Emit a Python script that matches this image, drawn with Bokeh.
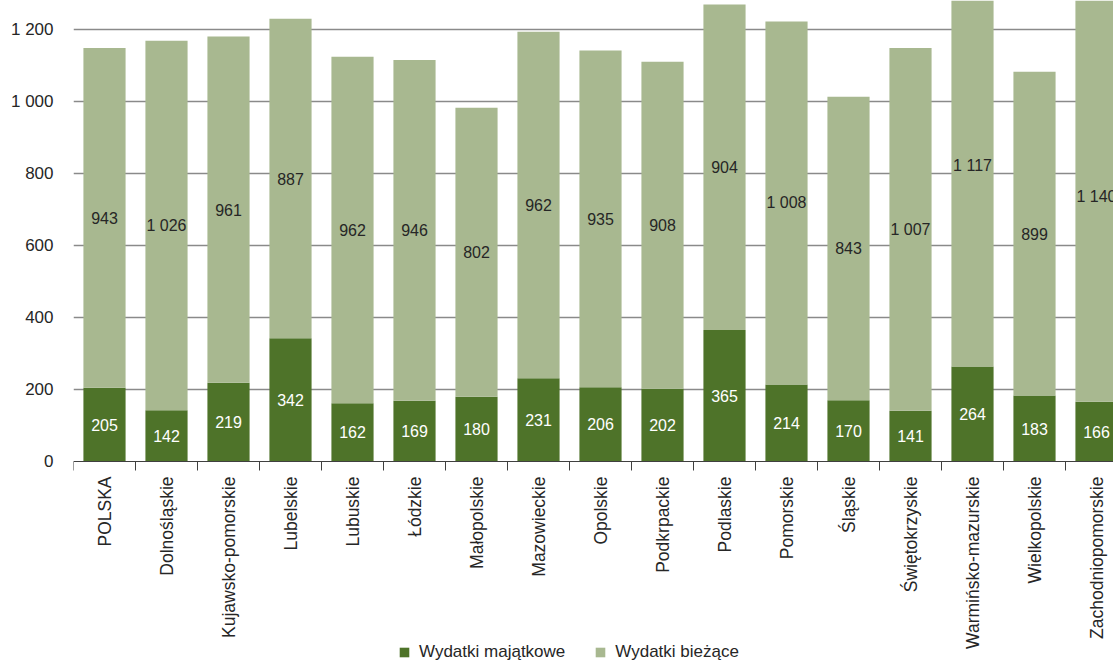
import math
from bokeh.plotting import figure
from bokeh.models import ColumnDataSource, FixedTicker, Range1d, Legend, LegendItem
from bokeh.core.properties import value
from bokeh.embed import file_html
from bokeh.resources import INLINE

categories = ["POLSKA", "Dolnośląskie", "Kujawsko-pomorskie", "Lubelskie", "Lubuskie",
              "Łódzkie", "Małopolskie", "Mazowieckie", "Opolskie", "Podkrpackie",
              "Podlaskie", "Pomorskie", "Śląskie", "Świętokrzyskie",
              "Warmińsko-mazurskie", "Wielkopolskie", "Zachodniopomorskie"]
wydatki_majatkowe = [205, 142, 219, 342, 162, 169, 180, 231, 206, 202, 365, 214, 170, 141, 264, 183, 166]
wydatki_biezace = [943, 1026, 961, 887, 962, 946, 802, 962, 935, 908, 904, 1008, 843, 1007, 1117, 899, 1140]
y_ticks = [0, 200, 400, 600, 800, 1000, 1200]

DARK = "#4e7329"
LIGHT = "#a8b890"
FONT = "Liberation Sans"

FRAME_H = 663
ZERO_PX = 461          # pixel row of the value 0
Y_TOP = 1280           # value at the top edge
scale = ZERO_PX / Y_TOP
y_bottom = -(FRAME_H - ZERO_PX) / scale


def fmt(v):
    return f"{v:,}".replace(",", " ")


xs = [i + 0.5 for i in range(len(categories))]
src = ColumnDataSource(dict(
    x=xs,
    maj=wydatki_majatkowe,
    bie=wydatki_biezace,
    maj_y=[m / 2 for m in wydatki_majatkowe],
    bie_y=[m + b / 2 for m, b in zip(wydatki_majatkowe, wydatki_biezace)],
    maj_t=[fmt(v) for v in wydatki_majatkowe],
    bie_t=[fmt(v) for v in wydatki_biezace],
))

p = figure(frame_width=1040, frame_height=FRAME_H, output_backend="svg", toolbar_location=None,
           x_range=Range1d(0, 1040 / 62), y_range=Range1d(y_bottom, Y_TOP),
           min_border_left=73, min_border_right=0, min_border_top=0, min_border_bottom=0)
p.outline_line_color = None

rs = p.vbar_stack(["maj", "bie"], x="x", width=0.68, source=src,
                  color=[DARK, LIGHT], line_color=None)

p.text(x="x", y="maj_y", text="maj_t", source=src, text_align="center", text_baseline="middle",
       text_color="white", text_font=value(FONT), text_font_size="16px")
p.text(x="x", y="bie_y", text="bie_t", source=src, text_align="center", text_baseline="middle",
       text_color="#262626", text_font=value(FONT), text_font_size="16px")

# y axis
p.yaxis.ticker = FixedTicker(ticks=y_ticks)
p.yaxis.major_label_overrides = {t: fmt(t) for t in y_ticks}
p.yaxis.axis_line_color = None
p.yaxis.major_tick_line_color = None
p.yaxis.major_tick_in = 0
p.yaxis.major_tick_out = 0
p.yaxis.minor_tick_line_color = None
p.yaxis.major_label_standoff = 20
p.yaxis.major_label_text_font = FONT
p.yaxis.major_label_text_font_size = "17px"
p.yaxis.major_label_text_color = "#262626"

p.ygrid.ticker = FixedTicker(ticks=y_ticks[1:])
p.ygrid.grid_line_color = "#8a8a8a"
p.ygrid.grid_line_width = 1.3
p.xgrid.visible = False

# x axis, pinned at value 0
p.xaxis.fixed_location = 0
p.xaxis.ticker = FixedTicker(ticks=xs, minor_ticks=list(range(len(categories) + 1)))
p.xaxis.major_label_overrides = {x: c for x, c in zip(xs, categories)}
p.xaxis.major_label_orientation = math.pi / 2
p.xaxis.major_tick_in = 0
p.xaxis.major_tick_out = 0
p.xaxis.minor_tick_in = 0
p.xaxis.minor_tick_out = 9
p.xaxis.minor_tick_line_color = "#404040"
p.xaxis.axis_line_color = "#404040"
p.xaxis.major_label_standoff = 6
p.xaxis.major_label_text_font = FONT
p.xaxis.major_label_text_font_size = "17.5px"
p.xaxis.major_label_text_color = "#262626"

legend = Legend(items=[LegendItem(label="Wydatki majątkowe", renderers=[rs[0]]),
                       LegendItem(label="Wydatki bieżące", renderers=[rs[1]])],
                orientation="horizontal", location=(325, 1))
legend.border_line_color = None
legend.background_fill_alpha = 0
legend.glyph_width = 12
legend.glyph_height = 12
legend.label_text_font = FONT
legend.label_text_font_size = "17px"
legend.label_text_color = "#262626"
legend.spacing = 29
legend.label_standoff = 9
legend.padding = 0
legend.margin = 0
p.add_layout(legend, "center")

open("out.html", "w").write(file_html(p, INLINE))
